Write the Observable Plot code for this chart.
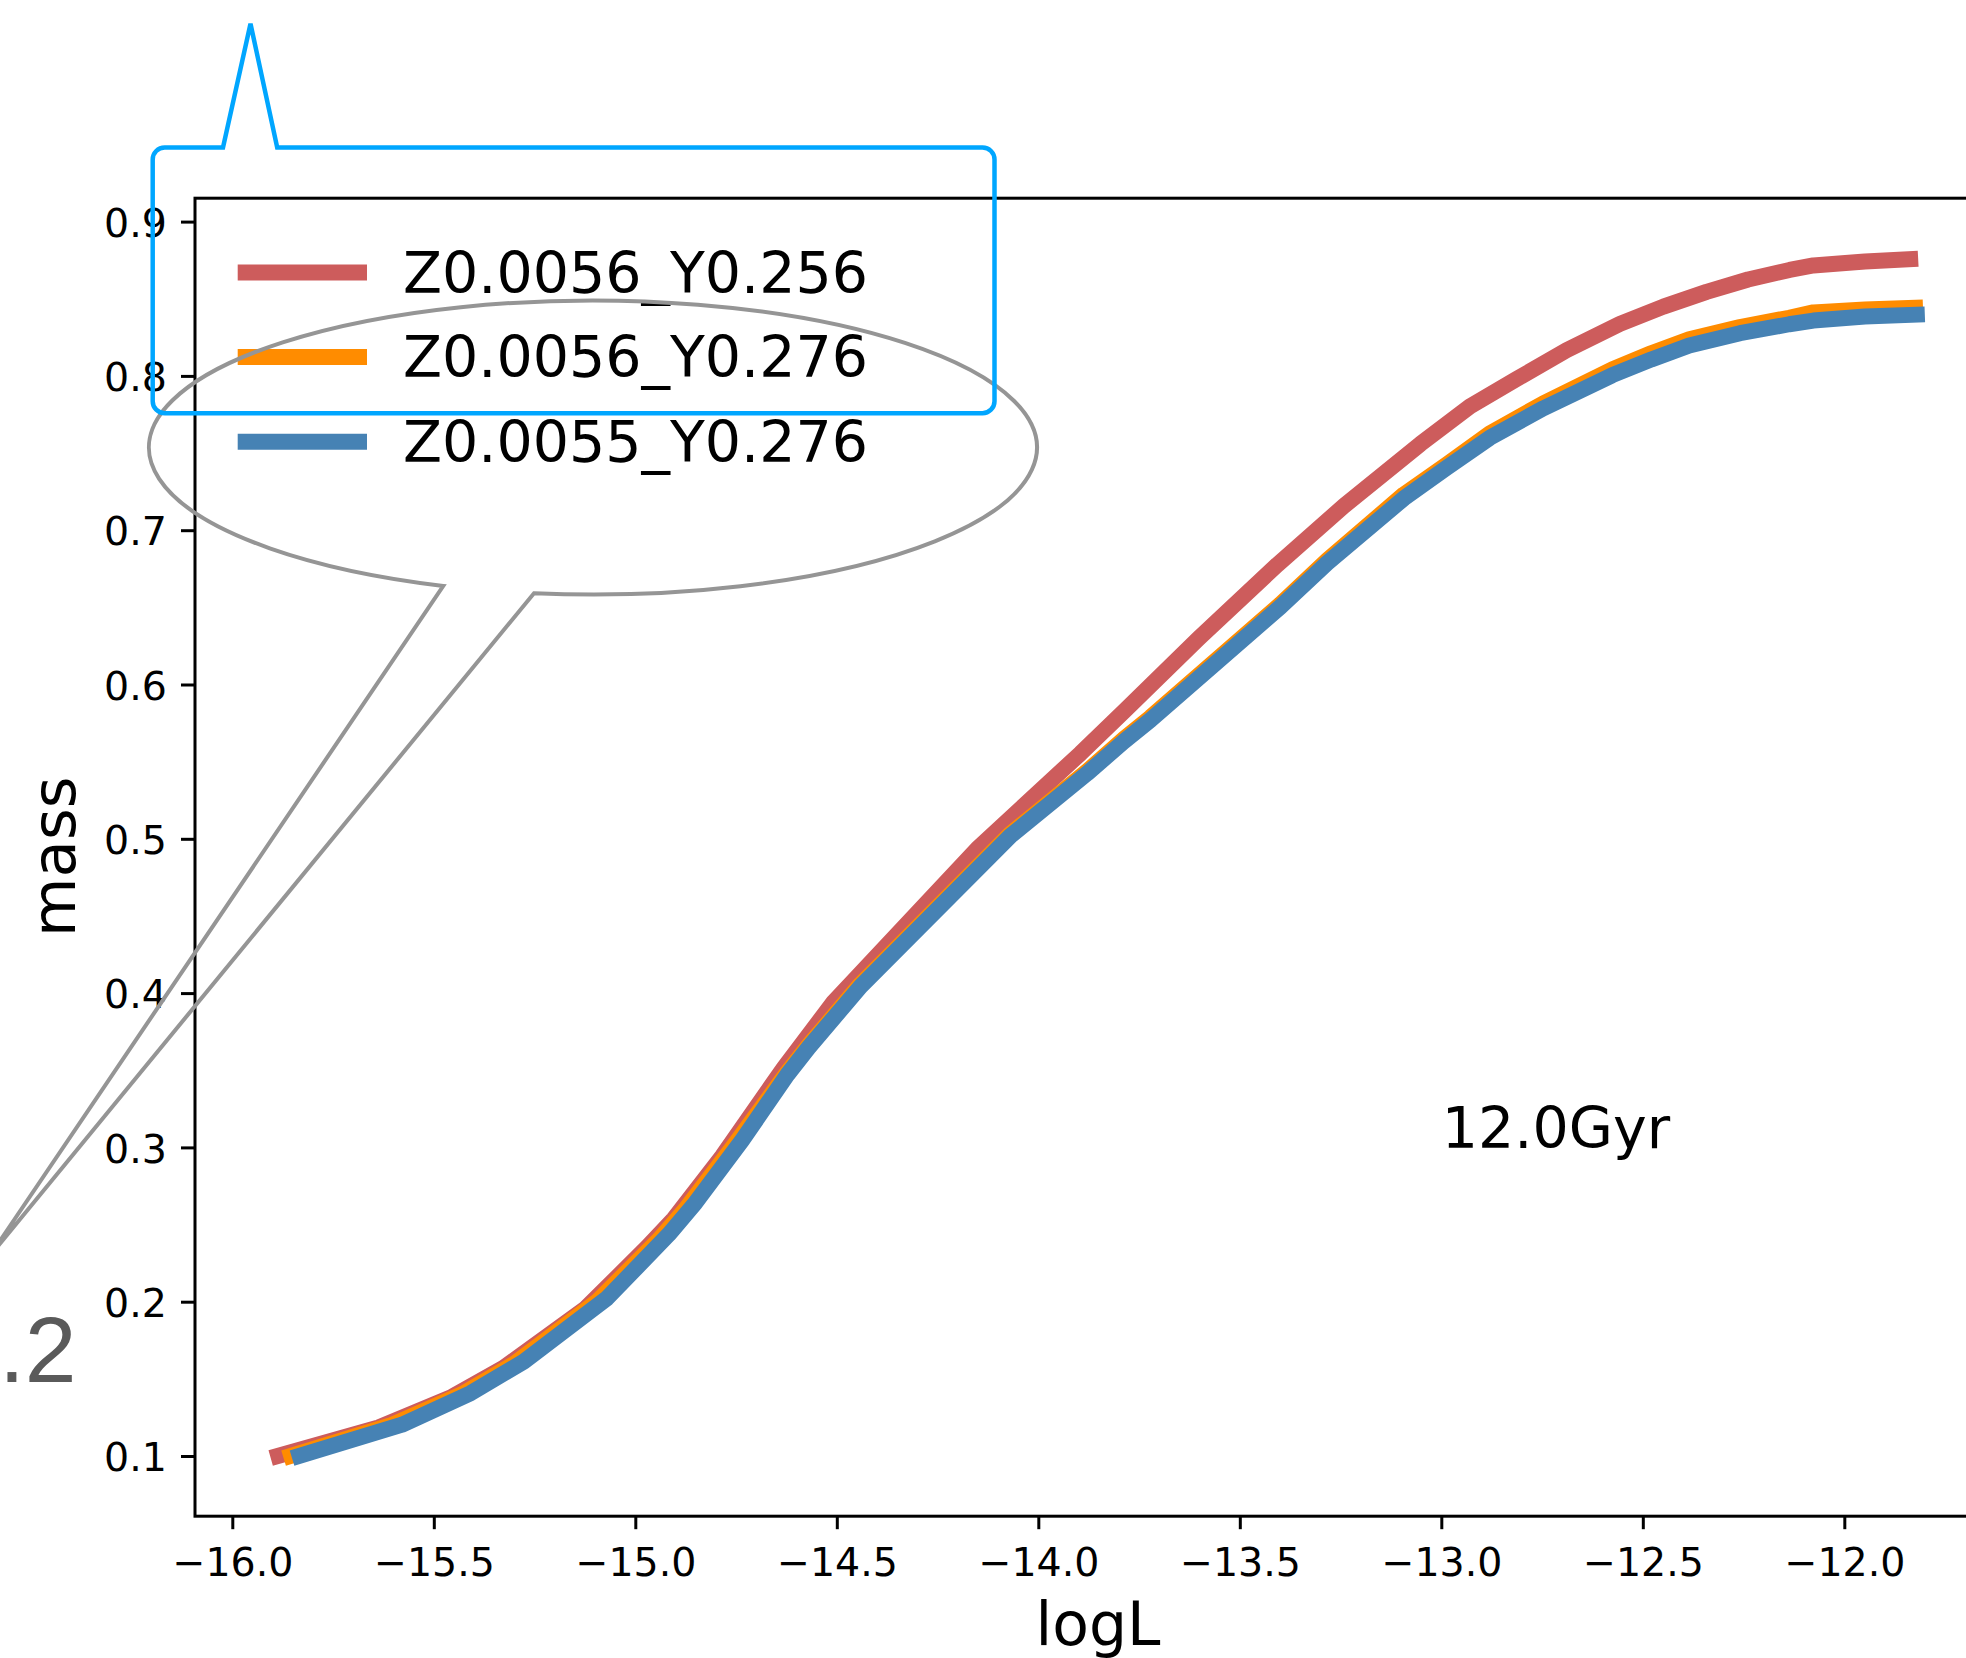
<!DOCTYPE html>
<html><head><meta charset="utf-8">
<script src="https://cdn.jsdelivr.net/npm/d3@7"></script>
<script src="https://cdn.jsdelivr.net/npm/@observablehq/plot@0.6"></script>
<style>
html,body{margin:0;padding:0;background:#fff;overflow:hidden;}
#chart svg{display:block;max-width:none;}
</style></head><body><div id="chart"></div>
<script>
// ---- data ----
const seriesNames = ["Z0.0056_Y0.256", "Z0.0056_Y0.276", "Z0.0055_Y0.276"];
const seriesColors = ["#cd5c5c", "#ff8c00", "#4682b4"];

const logL_Z0056_Y256 = [-15.906, -15.638, -15.456, -15.328, -15.125, -14.972, -14.906, -14.786, -14.633, -14.509, -14.153, -13.897, -13.789, -13.603, -13.408, -13.243, -13.053, -12.930, -12.815, -12.690, -12.558, -12.450, -12.343, -12.240, -12.137, -12.078, -11.950, -11.818];
const mass_Z0056_Y256 = [0.0990, 0.1189, 0.1387, 0.1575, 0.1959, 0.2356, 0.2540, 0.2945, 0.3518, 0.3946, 0.4938, 0.5556, 0.5829, 0.6303, 0.6780, 0.7160, 0.7562, 0.7806, 0.7982, 0.8170, 0.8340, 0.8452, 0.8548, 0.8628, 0.8690, 0.8719, 0.8745, 0.8763];

const logL_Z0056_Y276 = [-15.874, -15.605, -15.432, -15.302, -15.096, -14.944, -14.878, -14.760, -14.624, -14.571, -14.442, -14.070, -13.880, -13.789, -13.723, -13.400, -13.284, -13.094, -12.987, -12.881, -12.748, -12.577, -12.480, -12.386, -12.260, -12.138, -12.078, -11.950, -11.806];
const mass_Z0056_Y276 = [0.0990, 0.1205, 0.1403, 0.1600, 0.2005, 0.2402, 0.2599, 0.3004, 0.3490, 0.3665, 0.4062, 0.5037, 0.5441, 0.5650, 0.5790, 0.6525, 0.6810, 0.7235, 0.7430, 0.7630, 0.7825, 0.8045, 0.8150, 0.8240, 0.8320, 0.8380, 0.8415, 0.8433, 0.8447];

const logL_Z0055_Y276 = [-15.853, -15.580, -15.410, -15.278, -15.071, -14.918, -14.852, -14.736, -14.624, -14.571, -14.442, -14.070, -13.880, -13.789, -13.723, -13.400, -13.284, -13.094, -12.987, -12.881, -12.748, -12.577, -12.480, -12.386, -12.260, -12.138, -12.078, -11.950, -11.8015];
const mass_Z0055_Y276 = [0.0990, 0.1206, 0.1410, 0.1615, 0.2027, 0.2440, 0.2644, 0.3050, 0.3474, 0.3651, 0.4047, 0.5023, 0.5427, 0.5634, 0.5773, 0.6508, 0.6791, 0.7210, 0.7410, 0.7602, 0.7793, 0.8008, 0.8110, 0.8200, 0.8280, 0.8338, 0.8362, 0.8388, 0.8402];

const xTicks = [-16.0, -15.5, -15.0, -14.5, -14.0, -13.5, -13.0, -12.5, -12.0];
const yTicks = [0.1, 0.2, 0.3, 0.4, 0.5, 0.6, 0.7, 0.8, 0.9];
const annotations = [{text: "12.0Gyr", x: -13.0, y: 0.3}];
const xLabel = "logL";
const yLabel = "mass";
const cornerText = ".2";

// ---- build ----
const seriesX = [logL_Z0056_Y256, logL_Z0056_Y276, logL_Z0055_Y276];
const seriesY = [mass_Z0056_Y256, mass_Z0056_Y276, mass_Z0055_Y276];
const series = seriesNames.map((name, i) => ({
  name, color: seriesColors[i],
  rows: seriesX[i].map((x, j) => ({logL: x, mass: seriesY[i][j]}))
}));

const W = 1966, H = 1658;
const LW = 16;
const fmt = d3.format(".1f");

const plot = Plot.plot({
  width: W, height: H,
  marginLeft: 194.5, marginRight: -35, marginTop: 197.7, marginBottom: 142.3,
  x: {domain: [-16.0938, -11.6112]},
  y: {domain: [0.06131, 0.91549]},
  style: {fontFamily: "DejaVu Sans", background: "white", overflow: "hidden", color: "black"},
  marks: [
    ...series.map(s => Plot.line(s.rows, {x: "logL", y: "mass", stroke: s.color, strokeWidth: LW, strokeLinecap: "butt", strokeLinejoin: "round"})),
    Plot.frame({stroke: "black", strokeWidth: 3}),
    Plot.axisX({ticks: xTicks, tickFormat: fmt, tickSize: 13.5, tickPadding: 17.8, strokeWidth: 3, fontSize: 39.5, label: null}),
    Plot.axisY({ticks: yTicks, tickSize: 13.5, strokeWidth: 3, fill: "none", label: null}),
    Plot.axisY({ticks: yTicks, tickFormat: fmt, tickSize: 0, tickPadding: 28.1, dy: 2, fontSize: 39.5, label: null}),
    Plot.text(annotations, {x: "x", y: "y", text: "text", textAnchor: "start", lineAnchor: "bottom", fontSize: 57, fill: "black"})
  ]
});
document.getElementById("chart").appendChild(plot);

const svg = d3.select(plot);
// axis labels
svg.append("text").attr("x", 1098).attr("y", 1645).attr("text-anchor", "middle")
  .attr("font-family", "DejaVu Sans").attr("font-size", 60).attr("fill", "black").text(xLabel);
svg.append("text").attr("transform", "translate(74.6,856.7) rotate(-90)").attr("text-anchor", "middle")
  .attr("font-family", "DejaVu Sans").attr("font-size", 61).attr("fill", "black").text(yLabel);

// legend
const lg = svg.append("g");
series.forEach((s, i) => {
  const cy = 272.4 + i * 84.7;
  lg.append("line").attr("x1", 237.7).attr("x2", 367).attr("y1", cy).attr("y2", cy)
    .attr("stroke", s.color).attr("stroke-width", LW);
  lg.append("text").attr("x", 403).attr("y", cy + 20.2).attr("text-anchor", "start")
    .attr("font-family", "DejaVu Sans").attr("font-size", 57).attr("fill", "black").text(s.name);
});

// callouts
svg.append("path")
  .attr("d", "M 443.3,585.9 A 444 147 0 1 1 534,593.2 L -11,1257 Z")
  .attr("fill", "none").attr("stroke", "#959595").attr("stroke-width", 4).attr("stroke-linejoin", "miter");
svg.append("path")
  .attr("d", "M 164.7,147.5 L 223,147.5 L 250.5,23.7 L 277.2,147.5 L 982.5,147.5 A 12 12 0 0 1 994.5,159.5 L 994.5,401.2 A 12 12 0 0 1 982.5,413.2 L 164.7,413.2 A 12 12 0 0 1 152.7,401.2 L 152.7,159.5 A 12 12 0 0 1 164.7,147.5 Z")
  .attr("fill", "none").attr("stroke", "#00a6ff").attr("stroke-width", 4.5).attr("stroke-linejoin", "miter");

svg.append("text").attr("x", -1).attr("y", 1382).attr("text-anchor", "start")
  .attr("font-family", "Liberation Sans").attr("font-size", 93).attr("fill", "#5a5a5a").text(cornerText);
</script></body></html>
